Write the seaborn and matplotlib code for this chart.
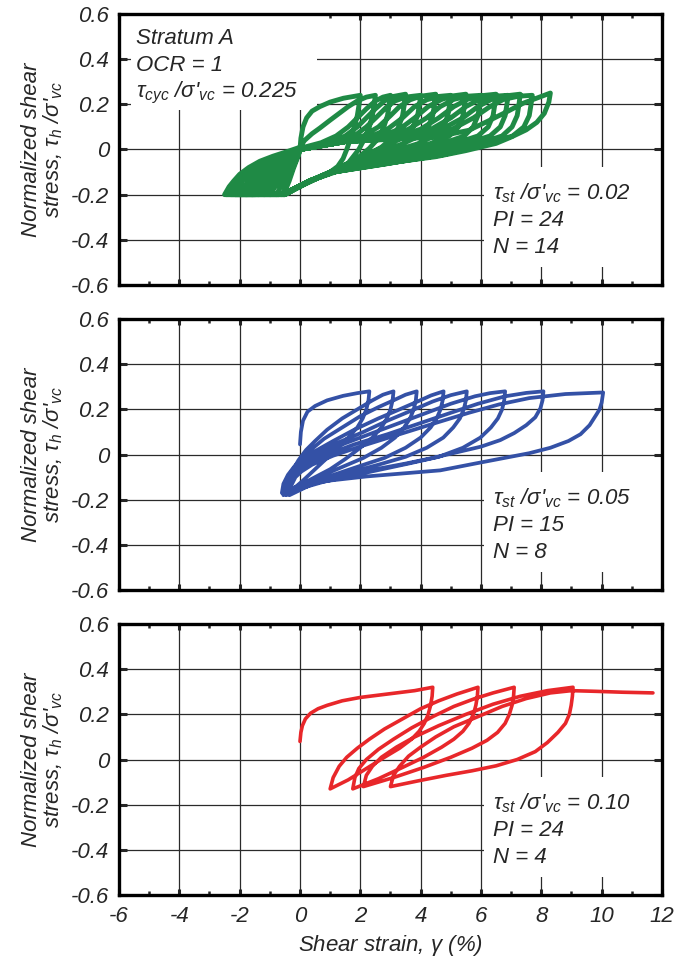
import matplotlib
matplotlib.use("Agg")
import matplotlib.pyplot as plt
import seaborn as sns
from matplotlib.patches import Rectangle
from matplotlib.ticker import MultipleLocator

# ---- data: (shear strain %, tau_h / sigma'_vc) ----
# Stratum A, tau_st = 0.02, N = 14
green_path = [
    (0.0, 0.0), (0.03, 0.05), (0.1, 0.1), (0.22, 0.14), (0.4, 0.17), (0.66, 0.19), (1.0, 0.21), (1.44, 0.227), (2.0, 0.24),
    (1.96, 0.2), (1.9, 0.15), (1.8, 0.1), (1.68, 0.05), (1.55, 0.0), (1.43, -0.04), (1.25, -0.075), (1.0, -0.1), (0.33, -0.14), (-0.3, -0.18), (-0.7, -0.2), (-1.5, -0.2), (-2.5, -0.2),
    (-2.35, -0.165), (-2.2, -0.14), (-2.0, -0.11), (-1.7, -0.08), (-1.33, -0.052), (-0.9, -0.03), (-0.44, -0.01), (0.0, 0.01), (0.15, 0.04), (0.4, 0.07), (0.66, 0.095), (1.0, 0.13), (1.3, 0.16), (1.6, 0.19), (1.9, 0.215), (2.2, 0.232), (2.5, 0.24),
    (2.46, 0.2), (2.4, 0.15), (2.3, 0.1), (2.15, 0.05), (1.95, 0.0), (1.6, -0.06), (1.0, -0.1), (0.3, -0.145), (-0.5, -0.195), (-1.5, -0.2), (-2.45, -0.2),
    (-2.3, -0.17), (-2.15, -0.15), (-1.8, -0.1), (-1.4, -0.07), (-1.0, -0.045), (-0.3, -0.01), (0.0, 0.005), (0.7, 0.03), (1.2, 0.06), (1.6, 0.1), (1.9, 0.14), (2.2, 0.18), (2.5, 0.215), (2.75, 0.232), (3.0, 0.24),
    (2.96, 0.2), (2.9, 0.15), (2.78, 0.1), (2.6, 0.05), (2.3, 0.005), (1.8, -0.05), (1.0, -0.1), (0.2, -0.15), (-0.5, -0.2), (-2.3, -0.2),
    (-2.15, -0.17), (-2.0, -0.15), (-1.6, -0.1), (-0.9, -0.05), (-0.3, -0.015), (0.0, 0.0), (1.0, 0.03), (1.5, 0.06), (1.9, 0.1), (2.2, 0.14), (2.5, 0.18), (2.8, 0.215), (3.1, 0.235), (3.5, 0.245),
    (3.46, 0.2), (3.4, 0.15), (3.27, 0.1), (3.05, 0.05), (2.7, 0.01), (2.0, -0.04), (1.1, -0.095), (0.2, -0.15), (-0.5, -0.2), (-2.15, -0.2),
    (-2.0, -0.17), (-1.8, -0.155), (-1.4, -0.1), (-0.8, -0.055), (-0.3, -0.02), (0.0, 0.0), (1.3, 0.03), (1.8, 0.06), (2.2, 0.1), (2.55, 0.145), (2.85, 0.185), (3.15, 0.215), (3.5, 0.232), (4.0, 0.24),
    (3.96, 0.2), (3.9, 0.15), (3.75, 0.1), (3.5, 0.06), (3.0, 0.025), (2.1, -0.03), (1.1, -0.095), (0.3, -0.14), (-0.5, -0.195), (-2.0, -0.2),
    (-1.8, -0.175), (-1.6, -0.155), (-1.2, -0.1), (-0.7, -0.06), (-0.2, -0.02), (0.0, 0.0), (1.5, 0.035), (2.1, 0.06), (2.6, 0.1), (3.0, 0.15), (3.3, 0.19), (3.65, 0.22), (4.0, 0.236), (4.5, 0.245),
    (4.46, 0.2), (4.4, 0.15), (4.25, 0.1), (3.95, 0.06), (3.4, 0.025), (2.4, -0.025), (1.3, -0.09), (0.3, -0.14), (-0.5, -0.195), (-1.8, -0.2),
    (-1.6, -0.175), (-1.45, -0.16), (-1.05, -0.11), (-0.55, -0.06), (-0.15, -0.02), (0.0, 0.0), (1.5, 0.035), (2.3, 0.055), (2.9, 0.09), (3.4, 0.14), (3.8, 0.19), (4.2, 0.22), (4.6, 0.235), (5.0, 0.24),
    (4.96, 0.2), (4.9, 0.15), (4.75, 0.1), (4.45, 0.06), (3.9, 0.025), (2.8, -0.02), (1.6, -0.08), (0.3, -0.14), (-0.5, -0.195), (-1.6, -0.2),
    (-1.45, -0.178), (-1.3, -0.16), (-0.95, -0.115), (-0.5, -0.065), (-0.12, -0.02), (0.0, 0.0), (1.5, 0.035), (2.6, 0.055), (3.3, 0.09), (3.8, 0.14), (4.25, 0.19), (4.7, 0.222), (5.1, 0.238), (5.5, 0.245),
    (5.46, 0.2), (5.4, 0.15), (5.25, 0.1), (4.95, 0.06), (4.3, 0.025), (3.2, -0.02), (2.0, -0.07), (1.0, -0.1), (0.3, -0.14), (-0.5, -0.195), (-1.4, -0.2),
    (-1.28, -0.18), (-1.15, -0.165), (-0.85, -0.12), (-0.45, -0.07), (-0.1, -0.02), (0.0, 0.0), (1.5, 0.035), (2.9, 0.055), (3.6, 0.09), (4.2, 0.14), (4.65, 0.19), (5.1, 0.222), (5.55, 0.236), (6.0, 0.24),
    (5.96, 0.2), (5.9, 0.15), (5.74, 0.1), (5.45, 0.06), (4.7, 0.025), (3.5, -0.02), (2.2, -0.07), (1.1, -0.1), (0.3, -0.14), (-0.5, -0.195), (-1.2, -0.2),
    (-1.1, -0.185), (-1.0, -0.17), (-0.75, -0.125), (-0.4, -0.07), (-0.1, -0.025), (0.0, 0.0), (1.5, 0.035), (3.2, 0.055), (4.0, 0.09), (4.6, 0.14), (5.1, 0.19), (5.55, 0.222), (6.0, 0.238), (6.5, 0.245),
    (6.46, 0.2), (6.4, 0.15), (6.24, 0.1), (5.9, 0.06), (5.1, 0.025), (3.9, -0.02), (2.4, -0.07), (1.1, -0.1), (0.3, -0.14), (-0.5, -0.195), (-1.0, -0.2),
    (-0.92, -0.185), (-0.85, -0.17), (-0.65, -0.13), (-0.35, -0.075), (-0.08, -0.025), (0.0, 0.0), (1.5, 0.035), (3.5, 0.055), (4.35, 0.09), (5.0, 0.14), (5.5, 0.19), (5.95, 0.222), (6.45, 0.236), (6.9, 0.24),
    (6.86, 0.2), (6.8, 0.15), (6.64, 0.1), (6.3, 0.06), (5.5, 0.025), (4.2, -0.02), (2.6, -0.065), (1.1, -0.1), (0.3, -0.14), (-0.5, -0.195), (-0.8, -0.2),
    (-0.74, -0.19), (-0.68, -0.175), (-0.52, -0.135), (-0.3, -0.08), (-0.07, -0.025), (0.0, 0.0), (1.5, 0.035), (3.8, 0.055), (4.7, 0.09), (5.4, 0.14), (5.9, 0.19), (6.35, 0.222), (6.85, 0.238), (7.3, 0.245),
    (7.26, 0.2), (7.2, 0.15), (7.03, 0.1), (6.7, 0.06), (5.9, 0.025), (4.5, -0.025), (2.8, -0.065), (1.1, -0.1), (0.3, -0.14), (-0.6, -0.2),
    (-0.55, -0.19), (-0.5, -0.175), (-0.4, -0.14), (-0.25, -0.085), (-0.06, -0.025), (0.0, 0.0), (1.5, 0.035), (4.1, 0.055), (5.05, 0.09), (5.75, 0.14), (6.3, 0.19), (6.75, 0.222), (7.25, 0.236), (7.7, 0.24),
    (7.66, 0.2), (7.6, 0.15), (7.42, 0.1), (7.05, 0.06), (6.2, 0.025), (4.8, -0.022), (3.0, -0.06), (1.1, -0.1), (0.3, -0.14), (-0.55, -0.2),
    (-0.5, -0.19), (-0.45, -0.17), (-0.36, -0.14), (-0.22, -0.085), (-0.05, -0.025), (0.0, 0.0), (1.5, 0.035), (4.5, 0.055), (5.6, 0.085), (6.3, 0.13), (6.9, 0.17), (7.4, 0.205), (7.9, 0.23), (8.3, 0.25),
    (8.25, 0.21), (8.1, 0.16), (7.85, 0.12), (7.5, 0.087), (7.0, 0.055), (6.5, 0.027), (5.5, -0.005), (4.5, -0.032), (3.3, -0.053), (2.0, -0.078), (1.1, -0.1), (0.3, -0.14), (-0.5, -0.2),
]

# tau_st = 0.05, PI = 15, N = 8
blue_path = [
    (0.0, 0.045), (0.03, 0.1), (0.1, 0.15), (0.25, 0.19), (0.5, 0.215), (0.9, 0.24), (1.43, 0.26), (1.9, 0.272), (2.3, 0.28),
    (2.27, 0.24), (2.2, 0.2), (2.08, 0.16), (1.9, 0.12), (1.6, 0.075), (1.3, 0.035), (0.9, -0.015), (0.5, -0.065), (0.1, -0.115), (-0.2, -0.15), (-0.5, -0.175),
    (-0.5, -0.14), (-0.4, -0.1), (-0.2, -0.06), (-0.05, -0.025), (0.2, 0.02), (0.5, 0.06), (0.9, 0.11), (1.4, 0.16), (1.9, 0.2), (2.4, 0.24), (2.75, 0.265), (3.1, 0.28),
    (3.07, 0.24), (3.0, 0.2), (2.88, 0.16), (2.7, 0.12), (2.4, 0.075), (2.0, 0.03), (1.5, -0.02), (1.0, -0.065), (0.5, -0.1), (0.0, -0.135), (-0.6, -0.17),
    (-0.55, -0.13), (-0.4, -0.09), (-0.2, -0.055), (0.05, -0.02), (0.35, 0.02), (0.8, 0.07), (1.4, 0.12), (2.0, 0.17), (2.6, 0.21), (3.1, 0.24), (3.5, 0.265), (3.87, 0.28),
    (3.84, 0.24), (3.77, 0.2), (3.65, 0.16), (3.45, 0.12), (3.15, 0.075), (2.7, 0.03), (2.1, -0.015), (1.4, -0.055), (0.6, -0.1), (0.0, -0.14), (-0.45, -0.18),
    (-0.4, -0.14), (-0.28, -0.1), (-0.1, -0.06), (0.1, -0.025), (0.5, 0.015), (1.1, 0.06), (1.8, 0.11), (2.6, 0.16), (3.3, 0.2), (3.9, 0.235), (4.35, 0.262), (4.76, 0.28),
    (4.73, 0.24), (4.66, 0.2), (4.53, 0.16), (4.33, 0.12), (4.0, 0.075), (3.5, 0.03), (2.8, -0.015), (2.0, -0.05), (1.0, -0.095), (0.2, -0.135), (-0.55, -0.175),
    (-0.48, -0.135), (-0.32, -0.095), (-0.1, -0.06), (0.15, -0.03), (0.6, 0.01), (1.3, 0.055), (2.1, 0.1), (2.9, 0.15), (3.7, 0.195), (4.4, 0.235), (5.0, 0.263), (5.53, 0.28),
    (5.5, 0.24), (5.43, 0.2), (5.3, 0.16), (5.08, 0.12), (4.75, 0.075), (4.2, 0.03), (3.5, -0.01), (2.6, -0.045), (1.5, -0.085), (0.5, -0.125), (-0.4, -0.175),
    (-0.35, -0.14), (-0.22, -0.1), (-0.05, -0.065), (0.2, -0.035), (0.7, 0.005), (1.5, 0.05), (2.4, 0.095), (3.3, 0.14), (4.2, 0.185), (5.0, 0.225), (5.8, 0.258), (6.3, 0.272), (6.8, 0.28),
    (6.77, 0.24), (6.7, 0.2), (6.56, 0.16), (6.33, 0.12), (5.98, 0.075), (5.4, 0.03), (4.6, -0.01), (3.6, -0.04), (2.2, -0.08), (0.8, -0.12), (-0.5, -0.17),
    (-0.42, -0.13), (-0.25, -0.095), (0.0, -0.07), (0.3, -0.04), (0.9, 0.0), (1.8, 0.045), (2.9, 0.09), (4.0, 0.14), (5.0, 0.185), (5.9, 0.225), (6.8, 0.258), (7.5, 0.273), (8.07, 0.28),
    (8.04, 0.24), (7.97, 0.205), (7.8, 0.165), (7.5, 0.13), (7.1, 0.095), (6.64, 0.064), (6.0, 0.035), (5.3, 0.013), (4.4, -0.015), (3.5, -0.04), (2.5, -0.065), (1.5, -0.09), (0.5, -0.125), (-0.35, -0.18),
    (-0.3, -0.14), (-0.15, -0.1), (0.05, -0.075), (0.4, -0.045), (1.1, -0.005), (2.1, 0.04), (3.3, 0.09), (4.5, 0.14), (5.6, 0.185), (6.6, 0.222), (7.6, 0.25), (8.8, 0.268), (10.05, 0.275),
    (10.0, 0.23), (9.93, 0.2), (9.83, 0.178), (9.6, 0.13), (9.3, 0.09), (8.9, 0.06), (8.3, 0.03), (7.6, 0.006), (6.85, -0.013), (5.8, -0.04), (4.65, -0.07), (3.3, -0.085), (2.2, -0.097), (1.0, -0.115), (0.3, -0.13), (0.0, -0.145), (-0.3, -0.165), (-0.55, -0.18),
]

# tau_st = 0.10, PI = 24, N = 4
red_path = [
    (0.0, 0.08), (0.03, 0.12), (0.08, 0.15), (0.18, 0.18), (0.35, 0.205), (0.6, 0.225), (0.9, 0.24), (1.4, 0.26), (2.0, 0.275), (2.6, 0.285), (3.2, 0.295), (3.8, 0.305), (4.4, 0.32),
    (4.38, 0.28), (4.33, 0.24), (4.25, 0.2), (4.12, 0.16), (3.95, 0.125), (3.7, 0.09), (3.3, 0.05), (2.8, 0.01), (2.2, -0.04), (1.6, -0.09), (1.0, -0.13),
    (1.1, -0.08), (1.3, -0.03), (1.55, 0.01), (1.9, 0.05), (2.3, 0.09), (2.8, 0.135), (3.4, 0.18), (4.0, 0.225), (4.6, 0.26), (5.2, 0.29), (5.9, 0.32),
    (5.88, 0.28), (5.83, 0.24), (5.75, 0.2), (5.6, 0.16), (5.4, 0.125), (5.1, 0.09), (4.7, 0.055), (4.1, 0.01), (3.4, -0.035), (2.6, -0.085), (1.75, -0.13),
    (1.82, -0.08), (1.95, -0.04), (2.2, 0.0), (2.6, 0.045), (3.1, 0.09), (3.7, 0.14), (4.4, 0.19), (5.1, 0.235), (5.8, 0.27), (6.4, 0.295), (7.1, 0.32),
    (7.08, 0.28), (7.03, 0.24), (6.94, 0.2), (6.8, 0.16), (6.55, 0.12), (6.2, 0.085), (5.7, 0.05), (5.0, 0.01), (4.1, -0.035), (3.1, -0.08), (2.1, -0.12),
    (2.2, -0.07), (2.4, -0.03), (2.7, 0.01), (3.2, 0.055), (3.8, 0.1), (4.6, 0.15), (5.5, 0.2), (6.4, 0.245), (7.3, 0.28), (8.2, 0.305), (9.05, 0.32),
    (9.03, 0.28), (8.99, 0.24), (8.93, 0.2), (8.8, 0.16), (8.55, 0.12), (8.2, 0.075), (7.8, 0.035), (7.2, 0.0), (6.5, -0.028), (5.7, -0.05), (4.85, -0.07), (3.9, -0.095), (3.0, -0.12),
    (3.1, -0.07), (3.3, -0.03), (3.6, 0.015), (4.0, 0.055), (4.5, 0.1), (5.1, 0.145), (5.9, 0.19), (6.7, 0.235), (7.5, 0.27), (8.3, 0.295), (9.0, 0.305), (9.8, 0.302), (10.7, 0.298), (11.7, 0.295),
]

panel_notes = [
    [r"$\mathrm{\tau}_{st}$ /$\mathrm{\sigma}$'$_{vc}$ = 0.02", "PI = 24", "N = 14"],
    [r"$\mathrm{\tau}_{st}$ /$\mathrm{\sigma}$'$_{vc}$ = 0.05", "PI = 15", "N = 8"],
    [r"$\mathrm{\tau}_{st}$ /$\mathrm{\sigma}$'$_{vc}$ = 0.10", "PI = 24", "N = 4"],
]
header_lines = ["Stratum A", "OCR = 1", r"$\mathrm{\tau}_{cyc}$ /$\mathrm{\sigma}$'$_{vc}$ = 0.225"]
x_ticks = [-6, -4, -2, 0, 2, 4, 6, 8, 10, 12]
y_ticks = [-0.6, -0.4, -0.2, 0, 0.2, 0.4, 0.6]
y_ticklabels = ["-0.6", "-0.4", "-0.2", "0", "0.2", "0.4", "0.6"]

colors = ["#1f8a45", "#3451a6", "#e8272a"]
widths = [3.5, 2.7, 2.6]

sns.set_style("white")
plt.rcParams["font.family"] = ["Liberation Sans", "DejaVu Sans"]
plt.rcParams["font.style"] = "italic"
plt.rcParams["mathtext.fontset"] = "custom"
plt.rcParams["mathtext.rm"] = "Liberation Sans"
plt.rcParams["mathtext.it"] = "Liberation Sans:italic"
plt.rcParams["mathtext.default"] = "it"
plt.rcParams["axes.unicode_minus"] = False

fig = plt.figure(figsize=(6.85, 9.66), dpi=100)
bottoms = [0.7050, 0.3892, 0.0735]
axes = [fig.add_axes([0.1737, b, 0.7927, 0.2805]) for b in bottoms]

fs = 16
paths = [green_path, blue_path, red_path]
for i, ax in enumerate(axes):
    strain = [p[0] for p in paths[i]]
    stress = [p[1] for p in paths[i]]
    sns.lineplot(x=strain, y=stress, sort=False, estimator=None, color=colors[i],
                 lw=widths[i], ax=ax, zorder=3, solid_joinstyle="round", solid_capstyle="round")

    ax.set_xlim(-6, 12)
    ax.set_ylim(-0.6, 0.6)
    ax.set_xticks(x_ticks)
    ax.xaxis.set_minor_locator(MultipleLocator(1))
    ax.set_yticks(y_ticks)
    ax.set_yticklabels(y_ticklabels, fontsize=fs)
    if i == 2:
        ax.set_xticklabels([str(t) for t in x_ticks], fontsize=fs)
        ax.set_xlabel(r"Shear strain, $\mathrm{\gamma}$ (%)", fontsize=fs, labelpad=4)
    else:
        ax.set_xticklabels([])
    ax.grid(True, which="major", color="#2a2a2a", lw=0.9)
    ax.set_axisbelow(True)
    for s in ax.spines.values():
        s.set_linewidth(2.4)
        s.set_color("black")
        s.set_zorder(5)
    ax.tick_params(which="both", direction="in", top=True, right=True, bottom=True, left=True)
    ax.tick_params(axis="y", which="major", length=6, width=2.2, pad=7)
    ax.tick_params(axis="x", which="major", length=4, width=2.2, pad=8)
    ax.tick_params(axis="x", which="minor", length=3, width=1.8)
    ax.set_ylabel("Normalized shear\n" + r"stress, $\mathrm{\tau}_h$ /$\mathrm{\sigma}$'$_{vc}$",
                  fontsize=fs, linespacing=1.0, labelpad=4)

    # white boxes behind the notes (they hide the grid lines)
    ax.add_patch(Rectangle((0.673, 0.066), 0.327, 0.37, transform=ax.transAxes,
                           facecolor="white", edgecolor="none", zorder=1.5))
    for j, line in enumerate(panel_notes[i]):
        ax.text(0.689, 0.338 - j * 0.1, line, transform=ax.transAxes, fontsize=fs,
                ha="left", va="center", zorder=4)

axes[0].add_patch(Rectangle((0.022, 0.645), 0.343, 0.355, transform=axes[0].transAxes,
                            facecolor="white", edgecolor="none", zorder=1.5))
for j, line in enumerate(header_lines):
    axes[0].text(0.031, 0.91 - j * 0.1, line, transform=axes[0].transAxes, fontsize=fs,
                 ha="left", va="center", zorder=4)

fig.savefig("out.png", dpi=100)
